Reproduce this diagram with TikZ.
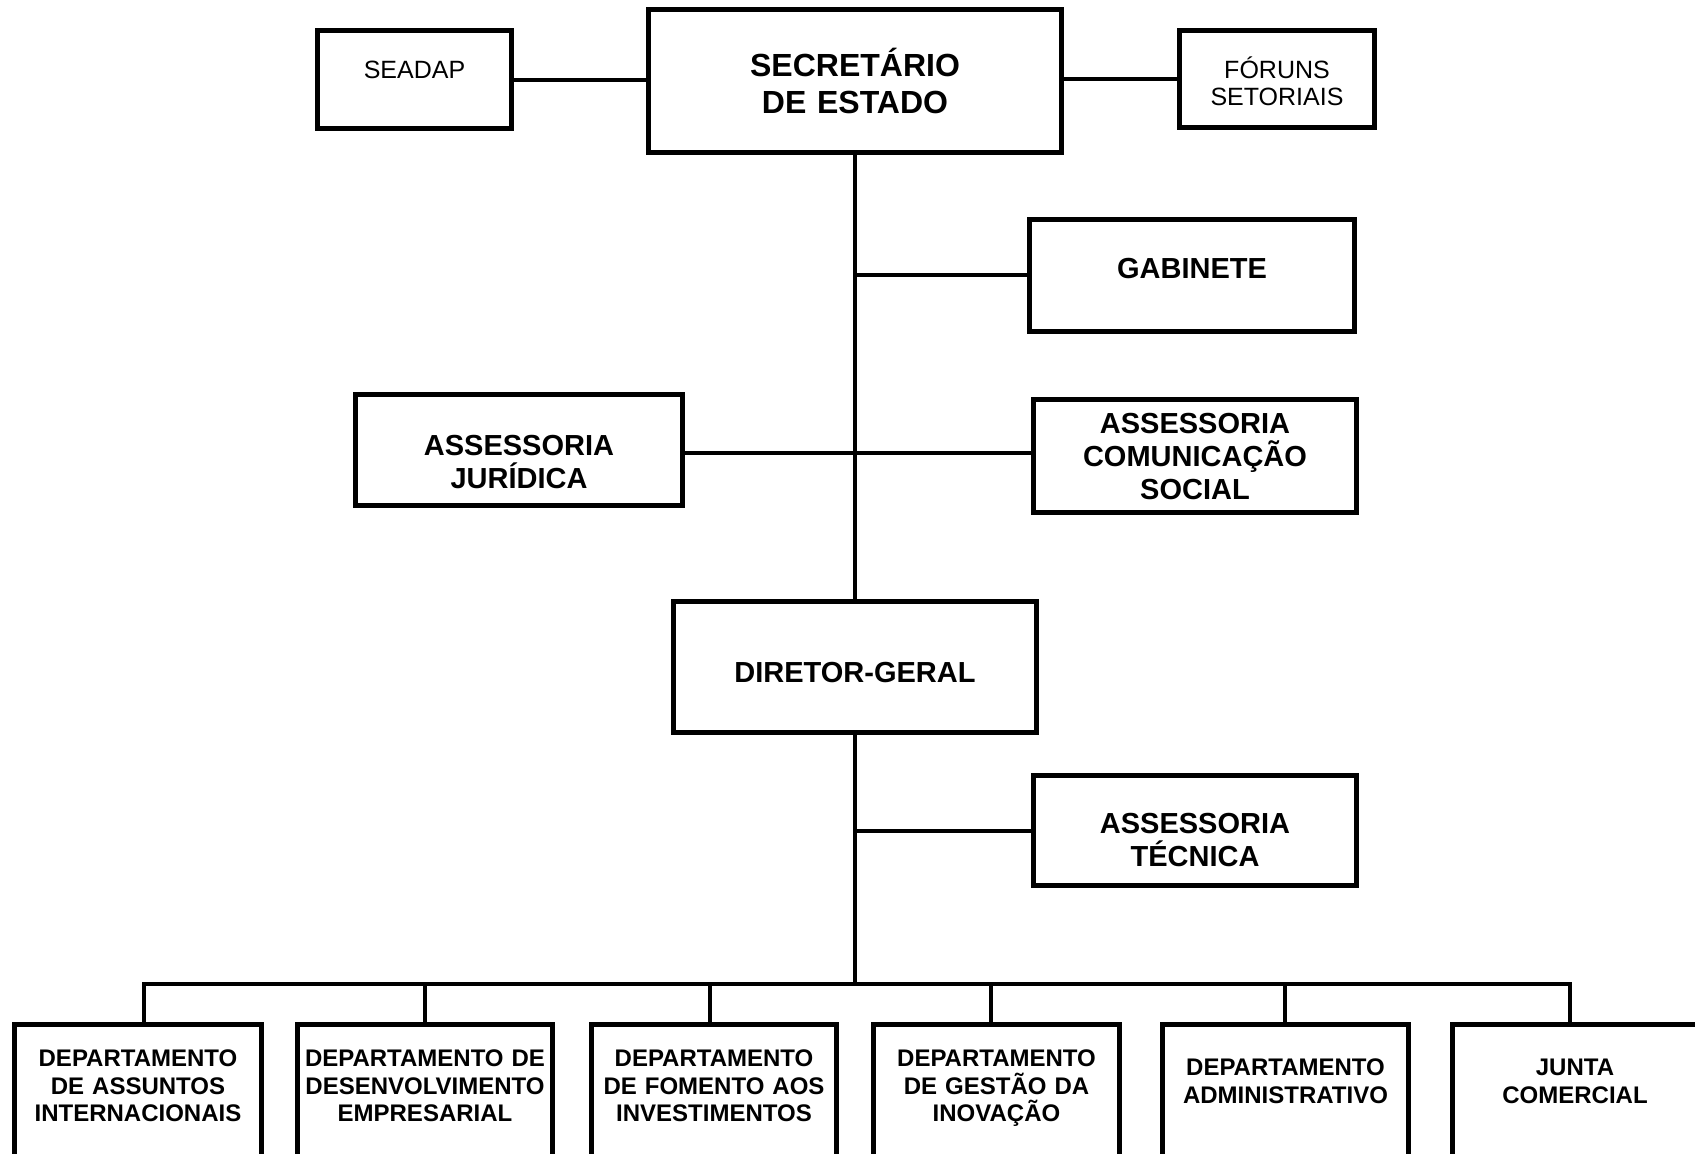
\documentclass[tikz,border=0pt]{standalone}
\usepackage{fontspec}
\setmainfont{Liberation Sans}
\begin{document}
\begin{tikzpicture}
[x=1pt,y=-1pt,
caixa/.style={draw,line width=5pt,anchor=north,inner sep=0pt,align=center},
chefe/.style={caixa,font=\fontsize{32}{37}\selectfont\bfseries},
assessoria/.style={caixa,font=\fontsize{29}{33}\selectfont\bfseries},
forum/.style={caixa,font=\fontsize{25}{26.5}\selectfont},
depto/.style={caixa,text height=42.4pt,text depth=150pt,font=\fontsize{24}{27.5}\selectfont\bfseries},
liga/.style={line width=4pt}]
\useasboundingbox (0,0) rectangle (1695,1154);
\fill [white] (0,0) rectangle (1695,1154);
\clip (0,0) rectangle (1695,1154);
% topo
\node [chefe,text width=413pt,text height=67pt,text depth=76pt] (sec) at (855,7) {SECRETÁRIO\\DE ESTADO};
\node [forum,text width=194pt,text height=48pt,text depth=50pt] (seadap) at (414.5,28) {SEADAP};
\node [forum,text width=195pt,text height=48.3pt,text depth=49pt] (foruns) at (1277,28) {FÓRUNS\\SETORIAIS};
% assessorias
\node [assessoria,text width=325pt,text height=59pt,text depth=52.5pt] (gab) at (1192,217) {GABINETE};
\node [assessoria,text width=327pt,text height=61pt,text depth=50.4pt] (jur) at (519,392) {ASSESSORIA\\JURÍDICA};
\node [assessoria,text width=323pt,text height=34pt,text depth=79.4pt] (com) at (1195,397) {ASSESSORIA\\COMUNICAÇÃO\\SOCIAL};
\node [assessoria,text width=363pt,text height=81pt,text depth=50.4pt] (dir) at (855,599) {DIRETOR-GERAL};
\node [assessoria,text width=323pt,text height=58pt,text depth=52.4pt] (tec) at (1195,773) {ASSESSORIA\\TÉCNICA};
% departamentos
\node [depto,text width=247pt] (d1) at (138,1022) {DEPARTAMENTO\\DE ASSUNTOS\\INTERNACIONAIS};
\node [depto,text width=255pt] (d2) at (425,1022) {DEPARTAMENTO DE\\DESENVOLVIMENTO\\EMPRESARIAL};
\node [depto,text width=245pt] (d3) at (714,1022) {DEPARTAMENTO\\DE FOMENTO AOS\\INVESTIMENTOS};
\node [depto,text width=246pt] (d4) at (996.5,1022) {DEPARTAMENTO\\DE GESTÃO DA\\INOVAÇÃO};
\node [depto,text width=246pt,text height=51.4pt] (d5) at (1285.5,1022) {DEPARTAMENTO\\ADMINISTRATIVO};
\node [depto,text width=245pt,text height=51.4pt] (d6) at (1575,1022) {JUNTA\\COMERCIAL};
% ligacoes
\draw [liga] (seadap.east) -- (seadap.east -| sec.west);
\draw [liga] (foruns.west) -- (foruns.west -| sec.east);
\draw [liga] (sec.south) -- (dir.north);
\draw [liga] (gab.west) -- (gab.west -| sec.south);
\draw [liga] ([yshift=-3pt]jur.east) -- ([yshift=-3pt]jur.east -| com.west);
\draw [liga] (tec.west) -- (tec.west -| dir.south);
\coordinate (barra) at (855,984);
\draw [liga] (dir.south) -- (barra);
\foreach \d/\dx in {d1/6,d2/0,d3/-4,d4/-6,d5/-1,d6/-5}
  \draw [liga] (\d.north) ++(\dx,0) |- (barra);
\end{tikzpicture}
\end{document}
